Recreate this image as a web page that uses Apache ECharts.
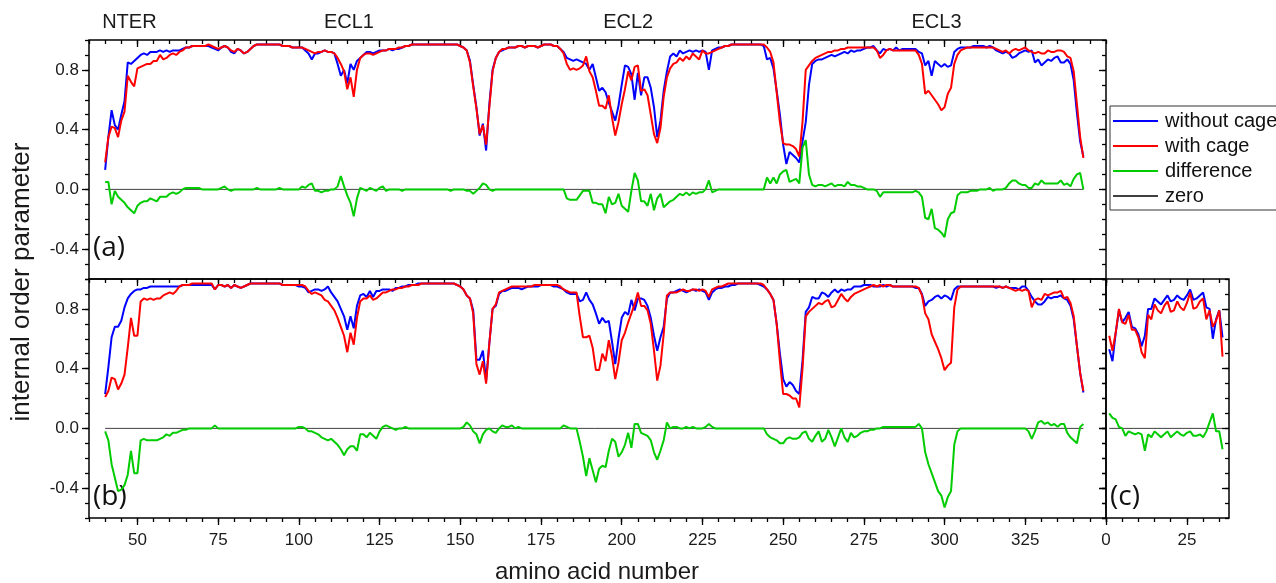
<!DOCTYPE html>
<html><head><meta charset="utf-8">
<script src="https://cdn.jsdelivr.net/npm/echarts@6/dist/echarts.min.js"></script>
<style>html,body{margin:0;padding:0;background:#fff}#c{width:1276px;height:583px}</style>
</head><body><div id="c"></div>
<script>
// ---------- data ----------
const residueStart = 40;          // first residue in panels (a) and (b)
const loopStart = 1;              // first residue in panel (c)
const xTickLabels = [50, 75, 100, 125, 150, 175, 200, 225, 250, 275, 300, 325];
const cTickLabels = [0, 25];
const yTickLabels = [-0.4, 0.0, 0.4, 0.8];
const regionNames = ['NTER', 'ECL1', 'ECL2', 'ECL3'];
const regionCenters = [47.5, 115.5, 202, 297.5];
const panelNames = ['(a)', '(b)', '(c)'];
const seriesNames = ['without cage', 'with cage', 'difference', 'zero'];

const aWithout = [
.13,.35,.53,.43,.40,.50,.59,.85,.84,.86,
.88,.90,.91,.90,.92,.92,.92,.93,.92,.93,
.92,.93,.93,.93,.94,.95,.95,.96,.96,.96,
.96,.96,.96,.95,.94,.93,.95,.96,.95,.92,
.91,.94,.93,.91,.92,.94,.96,.97,.97,.97,
.97,.97,.97,.97,.97,.96,.96,.96,.95,.95,
.95,.95,.93,.91,.87,.91,.91,.92,.93,.92,
.92,.91,.84,.76,.80,.71,.84,.80,.86,.88,
.90,.92,.92,.91,.92,.93,.93,.93,.94,.93,
.94,.94,.95,.96,.96,.97,.97,.97,.97,.97,
.97,.97,.97,.97,.97,.97,.97,.97,.97,.97,
.96,.95,.93,.86,.70,.55,.36,.44,.26,.57,
.80,.88,.92,.93,.94,.95,.95,.95,.96,.96,
.95,.96,.96,.96,.95,.96,.97,.97,.97,.96,
.96,.94,.92,.88,.87,.86,.87,.86,.85,.84,
.80,.84,.75,.66,.68,.65,.58,.52,.46,.56,
.70,.83,.82,.77,.60,.78,.63,.75,.75,.68,
.55,.35,.46,.66,.79,.89,.91,.89,.93,.91,
.92,.93,.92,.93,.92,.93,.92,.80,.93,.94,
.95,.95,.96,.96,.97,.97,.97,.97,.97,.97,
.97,.97,.97,.97,.96,.87,.88,.81,.66,.50,
.30,.17,.25,.23,.21,.18,.32,.45,.70,.84,
.86,.87,.87,.88,.89,.90,.89,.90,.91,.92,
.91,.93,.92,.93,.93,.94,.95,.95,.96,.93,
.91,.94,.93,.94,.93,.95,.93,.94,.94,.94,
.94,.94,.92,.91,.83,.86,.76,.86,.84,.82,
.84,.82,.83,.92,.94,.95,.95,.95,.95,.96,
.96,.96,.96,.95,.96,.95,.93,.92,.91,.92,
.91,.88,.89,.91,.92,.93,.92,.93,.85,.87,
.83,.85,.87,.86,.88,.89,.85,.85,.87,.84,
.73,.51,.32,.22];

const aWith = [
.18,.35,.42,.41,.35,.46,.52,.76,.72,.69,
.81,.82,.83,.84,.84,.86,.86,.90,.87,.88,
.90,.91,.90,.92,.93,.95,.95,.96,.96,.96,
.96,.96,.97,.96,.95,.94,.95,.96,.95,.93,
.92,.94,.93,.91,.92,.94,.96,.97,.97,.97,
.97,.97,.97,.97,.97,.96,.96,.96,.95,.95,
.95,.95,.94,.93,.92,.91,.92,.92,.93,.92,
.92,.91,.88,.84,.79,.67,.75,.62,.80,.88,
.90,.91,.91,.90,.91,.92,.93,.93,.94,.94,
.94,.95,.95,.96,.96,.97,.97,.97,.97,.97,
.97,.97,.97,.97,.97,.97,.97,.97,.97,.97,
.96,.95,.93,.85,.69,.54,.37,.43,.30,.55,
.79,.88,.92,.94,.94,.95,.95,.95,.96,.96,
.95,.96,.96,.96,.95,.96,.97,.97,.97,.96,
.96,.94,.91,.84,.80,.81,.80,.81,.83,.89,
.79,.75,.66,.56,.56,.54,.63,.48,.36,.45,
.57,.67,.79,.73,.82,.83,.66,.67,.63,.50,
.37,.31,.41,.62,.75,.81,.84,.85,.88,.86,
.89,.87,.91,.89,.87,.93,.91,.91,.92,.93,
.94,.95,.96,.96,.97,.97,.97,.97,.97,.97,
.97,.97,.97,.97,.97,.95,.92,.85,.65,.45,
.31,.30,.30,.29,.27,.22,.45,.80,.83,.86,
.88,.89,.90,.91,.92,.92,.93,.93,.94,.94,
.95,.95,.95,.95,.95,.95,.95,.95,.95,.93,
.88,.90,.93,.94,.93,.93,.93,.93,.93,.93,
.93,.93,.90,.84,.64,.66,.63,.60,.57,.53,
.55,.64,.68,.84,.90,.93,.94,.95,.95,.95,
.95,.95,.95,.95,.95,.95,.94,.93,.92,.93,
.91,.93,.94,.93,.94,.95,.93,.92,.91,.92,
.91,.91,.93,.92,.92,.93,.93,.92,.89,.88,
.79,.57,.35,.21];

const aDiff = [
.05,.05,-.10,-.01,-.05,-.07,-.09,-.12,-.14,-.16,
-.11,-.09,-.08,-.08,-.06,-.07,-.08,-.05,-.05,-.05,
-.03,-.02,-.03,-.02,.00,.01,.01,.01,.01,.01,
.00,.00,.00,.00,.00,.00,.01,.02,.00,-.01,
.00,.00,.00,.00,.00,.00,.00,.01,.00,.00,
.00,.00,.00,.00,.01,.00,.00,.00,.00,.00,
.00,.02,.01,.03,.04,-.01,-.01,-.02,-.01,-.01,
.00,.00,.02,.09,.02,-.04,-.09,-.18,-.06,.01,
.00,-.01,.01,.00,-.01,.01,.02,-.01,.00,.00,
.00,.00,-.01,.00,.00,.00,.00,.00,.00,.00,
.00,.00,.00,.00,.00,.00,.00,-.01,.00,.00,
.00,.00,-.01,-.01,-.03,-.01,.01,.04,.03,.00,
-.01,.00,.00,.00,.00,.00,.00,.00,.00,.00,
.00,.00,.00,.00,.00,.00,.00,.00,.00,.00,
.00,.00,.00,-.06,-.07,-.07,-.07,-.04,-.01,-.01,
-.01,-.09,-.09,-.10,-.10,-.16,-.05,-.10,-.09,-.03,
-.11,-.13,-.15,-.01,.11,.06,-.08,-.08,-.11,-.03,
-.14,-.06,-.03,-.12,-.10,-.08,-.07,-.05,-.03,-.04,
-.02,-.04,-.02,-.03,-.02,-.02,.00,.06,-.02,-.01,
.00,.00,.00,.00,.00,.00,.00,.00,.00,.00,
.00,.00,.00,.00,.00,.08,.04,.08,.04,.10,
.12,.13,.05,.06,.07,.04,.28,.33,.10,.03,
.02,.03,.03,.02,.03,.04,.02,.03,.03,.02,
.05,.03,.03,.02,.02,.01,.00,.00,.00,-.01,
-.05,-.02,-.02,-.02,-.02,-.02,-.02,-.02,-.02,-.02,
-.02,-.01,-.02,-.05,-.19,-.20,-.13,-.26,-.27,-.29,
-.32,-.20,-.16,-.15,-.04,-.02,-.02,-.02,-.01,-.01,
-.01,.00,.00,.00,.01,-.01,.00,.00,.00,.01,
.04,.06,.06,.04,.03,.03,.01,.01,.04,.03,
.06,.04,.04,.04,.04,.04,.06,.03,.04,.02,
.07,.10,.11,.00];

const bWithout = [
.23,.41,.61,.68,.68,.72,.81,.87,.90,.92,
.93,.93,.94,.94,.95,.95,.95,.95,.95,.95,
.95,.95,.95,.95,.96,.96,.96,.96,.96,.96,
.96,.96,.96,.96,.93,.96,.96,.95,.96,.94,
.96,.95,.94,.95,.96,.97,.97,.97,.97,.97,
.97,.97,.97,.97,.97,.96,.96,.96,.96,.96,
.95,.95,.94,.91,.92,.93,.93,.92,.93,.95,
.91,.88,.85,.80,.75,.66,.75,.67,.82,.89,
.90,.88,.92,.88,.92,.92,.93,.93,.93,.92,
.94,.94,.95,.95,.96,.96,.96,.97,.97,.97,
.97,.97,.97,.97,.97,.97,.97,.97,.97,.96,
.95,.93,.89,.87,.79,.46,.46,.52,.32,.57,
.80,.82,.90,.92,.92,.93,.94,.94,.94,.93,
.94,.95,.95,.95,.95,.96,.96,.96,.96,.95,
.95,.94,.93,.91,.90,.90,.90,.85,.86,.91,
.86,.83,.77,.70,.74,.71,.72,.58,.43,.60,
.74,.78,.76,.86,.79,.87,.87,.86,.82,.74,
.62,.52,.61,.68,.87,.91,.91,.92,.93,.92,
.91,.92,.93,.92,.93,.92,.91,.86,.91,.93,
.94,.94,.95,.95,.96,.96,.97,.97,.97,.97,
.97,.97,.97,.96,.95,.93,.90,.86,.70,.50,
.33,.28,.31,.29,.25,.23,.45,.78,.81,.88,
.87,.87,.91,.90,.88,.91,.93,.91,.93,.92,
.93,.93,.95,.95,.95,.96,.96,.96,.95,.95,
.95,.96,.95,.96,.95,.95,.95,.95,.95,.95,
.95,.94,.94,.90,.82,.85,.86,.88,.89,.87,
.89,.88,.86,.93,.95,.95,.95,.95,.95,.95,
.95,.95,.95,.95,.95,.95,.94,.95,.94,.95,
.94,.94,.94,.93,.95,.95,.92,.88,.85,.83,
.83,.85,.88,.87,.88,.88,.89,.87,.86,.82,
.73,.55,.37,.24];

const bWith = [
.21,.25,.34,.33,.26,.30,.36,.54,.74,.62,
.62,.85,.87,.86,.87,.86,.87,.87,.89,.90,
.91,.90,.92,.95,.96,.96,.96,.97,.97,.97,
.97,.97,.97,.97,.93,.96,.96,.95,.96,.94,
.96,.95,.94,.95,.96,.97,.97,.97,.97,.97,
.97,.97,.97,.97,.97,.96,.96,.96,.96,.96,
.96,.96,.95,.92,.90,.91,.90,.89,.86,.85,
.82,.79,.74,.68,.62,.51,.64,.56,.74,.85,
.87,.87,.89,.86,.87,.89,.91,.91,.92,.93,
.93,.94,.94,.95,.95,.96,.96,.96,.97,.97,
.97,.97,.97,.97,.97,.97,.97,.97,.97,.96,
.95,.93,.89,.87,.77,.43,.36,.45,.30,.57,
.80,.83,.91,.92,.93,.94,.95,.95,.95,.95,
.95,.95,.95,.96,.96,.96,.96,.96,.96,.96,
.96,.95,.93,.92,.91,.91,.91,.75,.61,.61,
.62,.54,.39,.39,.50,.45,.59,.48,.33,.44,
.59,.64,.71,.77,.83,.91,.82,.82,.79,.70,
.52,.32,.42,.63,.89,.91,.91,.91,.92,.93,
.92,.92,.93,.93,.92,.93,.92,.88,.93,.94,
.95,.95,.96,.97,.97,.97,.97,.97,.97,.97,
.97,.97,.97,.97,.96,.93,.90,.86,.70,.45,
.23,.23,.22,.20,.20,.14,.40,.75,.78,.80,
.82,.84,.83,.85,.86,.81,.82,.86,.90,.87,
.85,.88,.90,.91,.92,.93,.94,.95,.96,.95,
.96,.95,.96,.96,.95,.95,.95,.95,.95,.95,
.95,.95,.94,.89,.77,.73,.63,.58,.53,.47,
.39,.42,.44,.81,.93,.95,.95,.95,.95,.95,
.95,.95,.95,.95,.95,.95,.95,.95,.94,.95,
.94,.93,.92,.93,.92,.93,.92,.81,.86,.87,
.86,.90,.89,.90,.91,.91,.92,.87,.88,.84,
.75,.55,.37,.25];

const bDiff = [
-.02,-.08,-.24,-.33,-.42,-.41,-.38,-.31,-.15,-.30,
-.30,-.08,-.07,-.08,-.08,-.08,-.08,-.07,-.06,-.04,
-.05,-.03,-.03,-.02,-.01,-.01,.00,.00,.00,.00,
.00,.00,.00,.00,.02,.00,.00,.00,.00,.00,
.00,.00,.00,.00,.00,.00,.00,.00,.00,.00,
.00,.00,.00,.00,.00,.00,.00,.00,.00,.00,
.01,.01,.00,-.02,-.02,-.03,-.04,-.06,-.07,-.08,
-.07,-.09,-.11,-.14,-.18,-.14,-.12,-.12,-.15,-.04,
-.04,-.06,-.03,-.05,-.07,-.02,.01,.02,.01,.00,
-.01,.00,.00,.01,.00,.00,.00,.00,.00,.00,
.00,.00,.00,.00,.00,.00,.00,.00,.00,.00,
.00,.01,.04,.02,-.02,-.04,-.10,-.04,-.01,.00,
-.02,-.03,.00,.02,.01,.01,.02,.00,.01,.00,
.00,.00,.00,.00,.00,.00,.00,.00,.00,.00,
.00,.00,.02,.01,.00,.00,.00,-.09,-.19,-.32,
-.20,-.28,-.36,-.27,-.25,-.26,-.15,-.07,-.09,-.19,
-.16,-.11,-.03,-.13,.03,.03,-.03,-.04,-.05,-.08,
-.16,-.21,-.15,-.08,.04,.00,.01,.01,.00,.00,
.01,.00,.01,.00,.00,.00,.01,.03,.01,.00,
.00,.00,.00,.00,.00,.00,.00,.00,.00,.00,
.00,.00,.00,.00,.00,-.04,-.06,-.07,-.08,-.10,
-.10,-.07,-.06,-.07,-.07,-.06,-.03,-.02,-.07,-.09,
-.05,-.02,-.09,-.07,-.01,-.06,-.12,-.06,.00,-.06,
-.09,-.03,-.06,-.05,-.03,-.02,-.02,-.01,-.01,.00,
.00,.01,.01,.01,.01,.01,.01,.01,.01,.01,
.01,.01,.03,.00,-.16,-.24,-.30,-.36,-.42,-.45,
-.53,-.46,-.42,-.11,-.02,.00,.00,.00,.00,.00,
.00,.00,.00,.00,.00,.00,.00,.00,.00,.00,
.00,.00,.00,.00,.00,.00,-.02,-.07,-.02,.04,
.05,.03,.04,.02,.03,.01,.03,.03,-.03,-.06,
-.08,-.10,.01,.03];

const cWithout = [.53,.45,.64,.79,.71,.74,.78,.68,.67,.63,.55,.62,.80,.80,.87,.85,.83,.86,.89,.85,
  .86,.89,.87,.86,.89,.93,.86,.87,.89,.91,.81,.80,.60,.73,.79,.61];
const cWith = [.62,.52,.64,.80,.71,.70,.76,.66,.66,.61,.51,.47,.76,.73,.83,.79,.77,.82,.85,.78,
  .79,.85,.81,.79,.84,.91,.80,.81,.85,.87,.73,.79,.68,.72,.79,.48];
const cDiff = [.10,.07,.06,.01,.00,-.05,-.02,-.03,-.04,-.03,-.04,-.15,-.04,-.06,-.02,-.04,-.06,-.04,-.02,-.06,
  -.04,-.02,-.04,-.05,-.03,-.02,-.05,-.05,-.04,-.06,-.02,.04,.10,-.02,-.02,-.14];

// ---------- chart ----------
const FONT = "'Liberation Sans', Arial, sans-serif";
const COLORS = {'without cage': '#0000ff', 'with cage': '#ff0000', 'difference': '#00cc00', 'zero': '#404040'};
const X_MIN = 35, X_MAX = 350, C_MIN = 0, C_MAX = 38, Y_MIN = -0.6, Y_MAX = 1.0;

function steps(a, b, s) { const r = []; for (let v = a; v <= b + 1e-9; v += s) r.push(Math.round(v * 100) / 100); return r; }
const xMinor = steps(X_MIN, X_MAX, 5);
const cMinor = steps(C_MIN, C_MAX, 5);
const yMinor = steps(Y_MIN, Y_MAX, 0.1);

const grids = [
  {left: 89, top: 40, width: 1017, height: 239},
  {left: 89, top: 279, width: 1017, height: 239},
  {left: 1106, top: 279, width: 123, height: 239}
].map(g => Object.assign(g, {show: true, borderColor: '#000', borderWidth: 1.5, backgroundColor: 'transparent', containLabel: false}));

const tickStyle = {color: '#000', width: 1.3};
const labelStyle = {fontSize: 17, color: '#1a1a1a', fontFamily: FONT};

function axis(gridIndex, position, min, max, ticks, len, inside, labels, fmt) {
  return {
    type: 'value', gridIndex, position, min, max,
    axisLine: {show: false, onZero: false}, splitLine: {show: false},
    axisTick: {show: true, customValues: ticks, inside, length: len, lineStyle: tickStyle},
    axisLabel: labels ? Object.assign({show: true, customValues: ticks, margin: labels, formatter: fmt}, labelStyle) : {show: false}
  };
}
const fmtX = v => String(v);
const fmtY = v => v.toFixed(1);

const xAxis = [
  axis(0, 'top', X_MIN, X_MAX, xTickLabels, 7, true, 0),
  axis(0, 'top', X_MIN, X_MAX, xMinor, 4, true, 0),
  axis(1, 'bottom', X_MIN, X_MAX, xTickLabels, 7, false, 14, fmtX),
  axis(1, 'bottom', X_MIN, X_MAX, xMinor, 4, false, 0),
  axis(1, 'top', X_MIN, X_MAX, xTickLabels, 7, true, 0),
  axis(1, 'top', X_MIN, X_MAX, xMinor, 4, true, 0),
  axis(2, 'bottom', C_MIN, C_MAX, cTickLabels, 7, false, 14, fmtX),
  axis(2, 'bottom', C_MIN, C_MAX, cMinor, 4, false, 0),
  axis(2, 'top', C_MIN, C_MAX, cTickLabels, 7, true, 0),
  axis(2, 'top', C_MIN, C_MAX, cMinor, 4, true, 0)
];
const yAxis = [];
[0, 1, 2].forEach(g => {
  yAxis.push(axis(g, 'left', Y_MIN, Y_MAX, yTickLabels, 7, false, g < 2 ? 10 : 0, fmtY));
  yAxis.push(axis(g, 'left', Y_MIN, Y_MAX, yMinor, 4, false, 0));
  yAxis.push(axis(g, 'right', Y_MIN, Y_MAX, yTickLabels, 7, true, 0));
  yAxis.push(axis(g, 'right', Y_MIN, Y_MAX, yMinor, 4, true, 0));
});

function pts(arr, start) { return arr.map((v, i) => [start + i, v]); }
function line(name, data, xi, yi) {
  const isZero = name === 'zero';
  return {
    type: 'line', name, data, xAxisIndex: xi, yAxisIndex: yi,
    symbol: 'none', silent: true, animation: false,
    lineStyle: {color: COLORS[name], width: isZero ? 1 : 2},
    itemStyle: {color: COLORS[name]},
    z: isZero ? 1 : 2
  };
}
function zeroLine(arr, start) { return [[start, 0], [start + arr.length - 1, 0]]; }

const panels = [
  {xi: 0, yi: 0, start: residueStart, w: aWithout, r: aWith, d: aDiff},
  {xi: 2, yi: 4, start: residueStart, w: bWithout, r: bWith, d: bDiff},
  {xi: 6, yi: 8, start: loopStart, w: cWithout, r: cWith, d: cDiff}
];
const series = [];
panels.forEach(p => {
  series.push(line('zero', zeroLine(p.w, p.start), p.xi, p.yi));
  series.push(line('without cage', pts(p.w, p.start), p.xi, p.yi));
  series.push(line('with cage', pts(p.r, p.start), p.xi, p.yi));
  series.push(line('difference', pts(p.d, p.start), p.xi, p.yi));
});

const chart = echarts.init(document.getElementById('c'), null, {renderer: 'canvas'});
chart.setOption({
  animation: false,
  backgroundColor: '#fff',
  grid: grids,
  xAxis, yAxis, series,
  legend: {
    data: seriesNames.map(n => ({name: n, icon: 'rect', itemStyle: {color: COLORS[n]}})),
    orient: 'vertical', left: 1110, top: 106,
    itemWidth: 45, itemHeight: 2, itemGap: 5,
    padding: [5, 8, 4, 3],
    borderColor: '#333', borderWidth: 1, backgroundColor: '#fff',
    textStyle: {fontSize: 20, lineHeight: 20, color: '#111', fontFamily: FONT, padding: [0, 0, 0, 2]},
    selectedMode: false
  }
});

const px = v => chart.convertToPixel({xAxisIndex: 0}, v);
const graphic = [];
regionNames.forEach((n, i) => graphic.push({
  type: 'text', x: px(regionCenters[i]), y: 22,
  style: {text: n, fontSize: 20, fontFamily: FONT, fill: '#1a1a1a', align: 'center', verticalAlign: 'middle'}
}));
const panelPos = [[93, 248], [93, 497], [1110, 497]];
panelNames.forEach((n, i) => graphic.push({
  type: 'text', x: panelPos[i][0], y: panelPos[i][1],
  style: {text: n, fontSize: 28, fontFamily: "'Open Sans', sans-serif", fill: '#111', align: 'left', verticalAlign: 'middle'}
}));
graphic.push({type: 'text', x: 597, y: 572,
  style: {text: 'amino acid number', fontSize: 24, fontFamily: FONT, fill: '#1a1a1a', align: 'center', verticalAlign: 'middle'}});
graphic.push({type: 'text', x: 22, y: 282, rotation: Math.PI / 2,
  style: {text: 'internal order parameter', fontSize: 26, fontFamily: FONT, fill: '#1a1a1a', align: 'center', verticalAlign: 'middle'}});
chart.setOption({graphic});
</script>
</body></html>
